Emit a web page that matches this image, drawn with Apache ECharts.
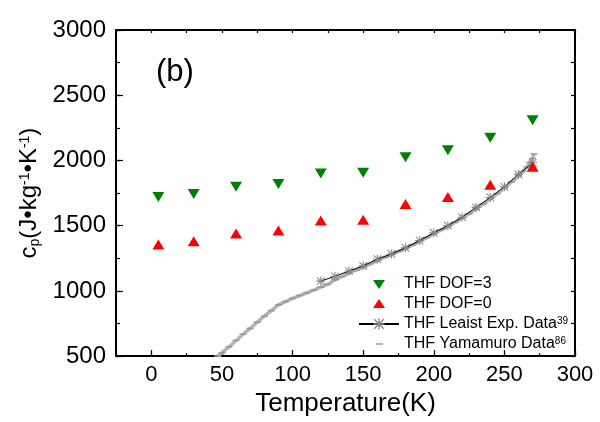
<!DOCTYPE html>
<html>
<head>
<meta charset="utf-8">
<script src="https://cdn.jsdelivr.net/npm/echarts@6/dist/echarts.min.js"></script>
<style>
html, body { margin: 0; padding: 0; background: #fff; }
#main { width: 600px; height: 422px; }
</style>
</head>
<body>
<div id="main"></div>
<script>
// simulated points (DOF = 3 / DOF = 0)
const tempSim = [5, 30, 60, 90, 120, 150, 180, 210, 240, 270];
const cpDof3 = [1720, 1742, 1798, 1820, 1900, 1905, 2025, 2078, 2174, 2308];
const cpDof0 = [1356, 1380, 1439, 1462, 1540, 1546, 1667, 1720, 1813, 1952];

// Leaist experimental data
const tempLeaist = [120, 130, 140, 150, 160, 170, 180, 190, 200, 210, 220, 230, 240, 250, 260, 270];
const cpLeaist = [1075, 1112, 1152, 1192, 1243, 1283, 1330, 1386, 1445, 1500, 1565, 1640, 1716, 1798, 1893, 1982];

// Yamamuro data
const tempYama = [47, 50, 55, 60, 65, 70, 75, 80, 85, 90, 95, 100, 105, 110, 115, 120, 125, 130, 135, 140, 145, 150, 155, 160, 165, 170, 175, 180, 185, 190, 195, 200, 205, 210, 215, 220, 225, 230, 235, 240, 245, 250, 255, 260, 263, 266, 268, 270, 271];
const cpYama = [500, 525, 570, 620, 668, 712, 760, 806, 848, 893, 918, 942, 964, 985, 1006, 1028, 1050, 1085, 1110, 1135, 1160, 1182, 1207, 1232, 1256, 1278, 1302, 1326, 1352, 1380, 1408, 1438, 1466, 1494, 1525, 1558, 1592, 1628, 1665, 1705, 1746, 1790, 1835, 1882, 1915, 1950, 1985, 2015, 2050];

const xMajor = [0, 50, 100, 150, 200, 250, 300];
const yMajor = [500, 1000, 1500, 2000, 2500, 3000];

const FONT = '"Liberation Sans", Arial, sans-serif';
const zip = (xs, ys) => xs.map((x, i) => [x, ys[i]]);

const triDown = 'path://M0,0 L12,0 L6,10 Z';
const triUp = 'path://M6,0 L12,10 L0,10 Z';
const asterisk = 'path://M4.4,0 L5.6,0 L5.6,10 L4.4,10 Z M0,4.4 L10,4.4 L10,5.6 L0,5.6 Z M1.2,0.4 L9.6,8.8 L8.8,9.6 L0.4,1.2 Z M8.8,0.4 L9.6,1.2 L1.2,9.6 L0.4,8.8 Z';
// legend icons padded to the 40x14 icon box
const legDown = 'path://M0,0 M40,14 M14,3 L26,3 L20,12 Z';
const legUp = 'path://M0,0 M40,14 M20,2 L26,11 L14,11 Z';
const legDash = 'path://M0,0 M40,14 M17,6.3 L24,6.3 L24,7.7 L17,7.7 Z';
const supers = { 'THF Leaist Exp. Data': '39', 'THF Yamamuro Data': '86' };

const frame = { onZero: false, lineStyle: { color: '#000', width: 2 } };
const noLine = { show: false, onZero: false };
const tickStyle = { color: '#000', width: 1.2 };
const xBase = { type: 'value', min: -25, max: 300, interval: 25, splitLine: { show: false }, axisLine: frame };
const yBase = { type: 'value', min: 500, max: 3000, interval: 250, splitLine: { show: false }, axisLine: frame };

const chart = echarts.init(document.getElementById('main'));
chart.setOption({
    animation: false,
    backgroundColor: '#fff',
    grid: { left: 116, right: 25, top: 30, bottom: 62 },
    graphic: [{ type: 'text', left: 156, top: 57, style: { text: '(b)', fontSize: 31, fontFamily: FONT, fill: '#000' } }],
    legend: {
        orient: 'vertical', left: 353, top: 271, itemWidth: 40, itemHeight: 14, itemGap: 4,
        selectedMode: false,
        data: [
            { name: 'THF DOF=3', icon: legDown },
            { name: 'THF DOF=0', icon: legUp },
            { name: 'THF Leaist Exp. Data' },
            { name: 'THF Yamamuro Data', icon: legDash },
        ],
        formatter: name => supers[name] ? `{t|${name}}{s|${supers[name]}}` : `{t|${name}}`,
        textStyle: {
            fontSize: 16, color: '#000', fontFamily: FONT,
            rich: {
                t: { fontSize: 16, color: '#000', fontFamily: FONT },
                s: { fontSize: 10, color: '#000', fontFamily: FONT, verticalAlign: 'top' },
            },
        },
    },
    xAxis: [
        {
            ...xBase, position: 'bottom',
            axisTick: { inside: true, length: 3, lineStyle: tickStyle },
            axisLabel: { formatter: v => (v >= 0 && v % 50 === 0 ? String(v) : ''), fontSize: 22, color: '#000', fontFamily: FONT, margin: 8 },
            name: 'Temperature(K)', nameLocation: 'middle', nameGap: 32,
            nameTextStyle: { fontSize: 26, color: '#000', fontFamily: FONT },
        },
        {
            ...xBase, position: 'bottom', axisLine: noLine, axisLabel: { show: false },
            axisTick: { inside: true, length: 6, customValues: xMajor, lineStyle: tickStyle },
        },
        {
            ...xBase, position: 'top', axisLabel: { show: false },
            axisTick: { inside: true, length: 3, lineStyle: tickStyle },
        },
    ],
    yAxis: [
        {
            ...yBase, position: 'left',
            axisTick: { inside: true, length: 4, lineStyle: tickStyle },
            axisLabel: { formatter: v => (v % 500 === 0 ? String(v) : ''), fontSize: 24, color: '#000', fontFamily: FONT, margin: 10 },
            name: '{n|c}{sub|p}{n|(J•kg}{sup|-1}{n|•K}{sup|-1}{n|)}',
            nameLocation: 'middle', nameGap: 72,
            nameTextStyle: {
                color: '#000', fontFamily: FONT, fontSize: 24,
                rich: {
                    n: { fontSize: 24, color: '#000', fontFamily: FONT },
                    sub: { fontSize: 14, color: '#000', fontFamily: FONT, verticalAlign: 'bottom' },
                    sup: { fontSize: 14, color: '#000', fontFamily: FONT, verticalAlign: 'top' },
                },
            },
        },
        {
            ...yBase, position: 'left', axisLine: noLine, axisLabel: { show: false },
            axisTick: { inside: true, length: 7, customValues: yMajor, lineStyle: tickStyle },
        },
        {
            ...yBase, position: 'right', axisLabel: { show: false },
            axisTick: { inside: true, length: 4, lineStyle: tickStyle },
        },
    ],
    series: [
        {
            name: 'THF Yamamuro Data', type: 'line', data: zip(tempYama, cpYama),
            symbol: 'rect', symbolSize: [7, 1.5], showAllSymbol: true,
            itemStyle: { color: '#999' }, lineStyle: { color: '#b3b3b3', width: 3.5 }, z: 1,
        },
        {
            name: 'THF Leaist Exp. Data', type: 'line', data: zip(tempLeaist, cpLeaist),
            symbol: asterisk, symbolSize: 9, showAllSymbol: true,
            itemStyle: { color: '#858585' }, lineStyle: { color: '#000', width: 1 }, z: 2,
        },
        {
            name: 'THF DOF=3', type: 'scatter', data: zip(tempSim, cpDof3),
            symbol: triDown, symbolSize: [12, 10], itemStyle: { color: '#008000', opacity: 1 }, z: 3,
        },
        {
            name: 'THF DOF=0', type: 'scatter', data: zip(tempSim, cpDof0),
            symbol: triUp, symbolSize: [12, 10], itemStyle: { color: '#ff0000', opacity: 1 }, z: 3,
        },
    ],
});
</script>
</body>
</html>
